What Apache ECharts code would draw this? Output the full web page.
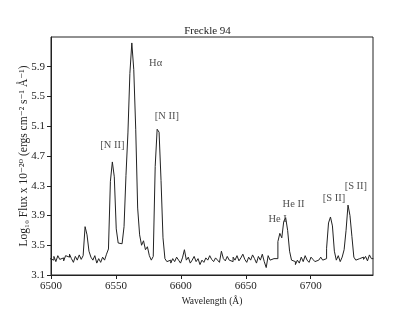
<!DOCTYPE html>
<html>
<head>
<meta charset="utf-8">
<script src="https://cdn.jsdelivr.net/npm/echarts@6/dist/echarts.min.js"></script>
<style>html,body{margin:0;padding:0;background:#fff}#c{width:415px;height:311px}</style>
</head>
<body>
<div id="c"></div>
<script>
var wavelength = [
6500,6501.5,6503,6504.5,6506,6507.5,6509,6510.5,6512,6513.5,
6515,6516.5,6518,6519.5,6521,6522.5,6524,6525.5,6527,6528.5,
6530,6531.5,6533,6534.5,6536,6537.5,6539,6540.5,6542,6543.5,
6545,6546.5,6548,6549.5,6551,6552.5,6554,6555.5,6557,6558.5,
6560,6561.5,6563,6564.5,6566,6567.5,6569,6570.5,6572,6573.5,
6575,6576.5,6578,6579.5,6581,6582.5,6584,6585.5,6587,6588.5,
6590,6591.5,6593,6594.5,6596,6597.5,6599,6600.5,6602,6603.5,
6605,6606.5,6608,6609.5,6611,6612.5,6614,6615.5,6617,6618.5,
6620,6621.5,6623,6624.5,6626,6627.5,6629,6630.5,6632,6633.5,
6635,6636.5,6638,6639.5,6641,6642.5,6644,6645.5,6647,6648.5,
6650,6651.5,6653,6654.5,6656,6657.5,6659,6660.5,6662,6663.5,
6665,6666.5,6668,6669.5,6671,6672.5,6674,6675.5,6677,6678.5,
6680,6681.5,6683,6684.5,6686,6687.5,6689,6690.5,6692,6693.5,
6695,6696.5,6698,6699.5,6701,6702.5,6704,6705.5,6707,6708.5,
6710,6711.5,6713,6714.5,6716,6717.5,6719,6720.5,6722,6723.5,
6725,6726.5,6728,6729.5,6731,6732.5,6734,6735.5,6737,6738.5,
6740,6741.5,6743,6744.5,6746,6747.5
];
var logFlux = [
3.32,3.30,3.35,3.28,3.36,3.31,3.33,3.29,3.36,3.34,
3.38,3.32,3.27,3.35,3.30,3.37,3.31,3.36,3.75,3.64,
3.42,3.34,3.30,3.36,3.26,3.32,3.27,3.34,3.30,3.38,
3.45,4.36,4.62,4.42,3.72,3.53,3.52,3.50,3.75,4.44,
5.01,5.81,6.22,5.86,5.06,4.00,3.64,3.50,3.56,3.44,
3.48,3.36,3.30,3.35,4.56,5.06,5.02,4.37,3.60,3.32,
3.28,3.30,3.26,3.32,3.28,3.34,3.30,3.26,3.33,3.44,
3.30,3.34,3.26,3.30,3.35,3.28,3.32,3.24,3.30,3.27,
3.33,3.30,3.36,3.31,3.28,3.33,3.30,3.27,3.42,3.32,
3.29,3.35,3.30,3.28,3.34,3.30,3.36,3.29,3.33,3.38,
3.31,3.27,3.34,3.30,3.37,3.32,3.26,3.35,3.30,3.38,
3.28,3.20,3.36,3.30,3.32,3.34,3.32,3.55,3.66,3.60,
3.82,3.87,3.70,3.42,3.30,3.28,3.24,3.30,3.26,3.34,
3.28,3.36,3.30,3.27,3.34,3.31,3.28,3.30,3.32,3.34,
3.30,3.32,3.46,3.80,3.88,3.76,3.42,3.30,3.36,3.28,
3.34,3.44,3.70,4.04,3.90,3.62,3.34,3.30,3.32,3.30,
3.34,3.31,3.35,3.29,3.37,3.32
];
var xTicks = [6500, 6550, 6600, 6650, 6700];
var yTicks = [3.1, 3.5, 3.9, 4.3, 4.7, 5.1, 5.5, 5.9];
var labelText = ['[N II]', 'Hα', '[N II]', 'He I', 'He II', '[S II]', '[S II]'];
var labelX = [6547.2, 6580.6, 6589.2, 6674.5, 6686.8, 6717.9, 6734.8];
var labelY = [4.84, 5.95, 5.24, 3.85, 4.05, 4.13, 4.29];

var FONT = '"Liberation Serif", "DejaVu Serif", serif';

// histogram-style (steps-mid) outline from the binned spectrum
var lineData = [];
for (var i = 0; i < wavelength.length; i++) {
  var left = i > 0 ? (wavelength[i - 1] + wavelength[i]) / 2 : wavelength[i] - (wavelength[1] - wavelength[0]) / 2;
  var right = i < wavelength.length - 1 ? (wavelength[i] + wavelength[i + 1]) / 2 : wavelength[i] + (wavelength[i] - wavelength[i - 1]) / 2;
  lineData.push([left, logFlux[i]]);
  lineData.push([right, logFlux[i]]);
}
var annData = labelText.map(function (t, i) { return [labelX[i], labelY[i], t]; });

var chart = echarts.init(document.getElementById('c'), null, {renderer: 'canvas'});
chart.setOption({
  animation: false,
  backgroundColor: '#fff',
  textStyle: {fontFamily: FONT},
  title: {
    text: 'Freckle 94', left: 'center', top: 21,
    textStyle: {fontFamily: FONT, fontSize: 11, fontWeight: 'normal', color: '#222'}
  },
  grid: {left: 51, right: 42, top: 37, bottom: 34, show: true, borderColor: '#222', borderWidth: 1, containLabel: false},
  xAxis: {
    type: 'value', min: 6500, max: 6748,
    name: 'Wavelength (Å)', nameLocation: 'middle', nameGap: 21, nameMoveOverlap: false,
    nameTextStyle: {fontFamily: FONT, fontSize: 9.5, color: '#222', verticalAlign: 'top'},
    axisLine: {show: true, lineStyle: {color: '#222', width: 1}},
    axisTick: {show: true, inside: false, length: 4, lineStyle: {color: '#222'}, customValues: xTicks},
    axisLabel: {fontFamily: FONT, fontSize: 11, color: '#222', margin: 6, customValues: xTicks,
      formatter: function (v) { return String(Math.round(v)); }},
    splitLine: {show: false}
  },
  yAxis: {
    type: 'value', min: 3.1, max: 6.3,
    name: 'Log₁₀ Flux x 10⁻²⁰ (ergs cm⁻² s⁻¹ Å⁻¹)', nameLocation: 'middle', nameGap: 21, nameMoveOverlap: false,
    nameTextStyle: {fontFamily: FONT, fontSize: 11.5, color: '#222'},
    axisLine: {show: true, lineStyle: {color: '#222', width: 1}},
    axisTick: {show: true, inside: false, length: 4, lineStyle: {color: '#222'}, customValues: yTicks},
    axisLabel: {fontFamily: FONT, fontSize: 11, color: '#222', margin: 6, customValues: yTicks,
      formatter: function (v) { return v.toFixed(1); }},
    splitLine: {show: false}
  },
  series: [
    {
      type: 'line', data: lineData, showSymbol: false, symbol: 'none',
      lineStyle: {color: '#222', width: 1}, silent: true
    },
    {
      type: 'scatter', data: annData, symbolSize: 0, silent: true,
      label: {show: true, position: 'inside', fontFamily: FONT, fontSize: 10.5, color: '#222',
        formatter: function (p) { return p.data[2]; }}
    }
  ]
});
</script>
</body>
</html>
